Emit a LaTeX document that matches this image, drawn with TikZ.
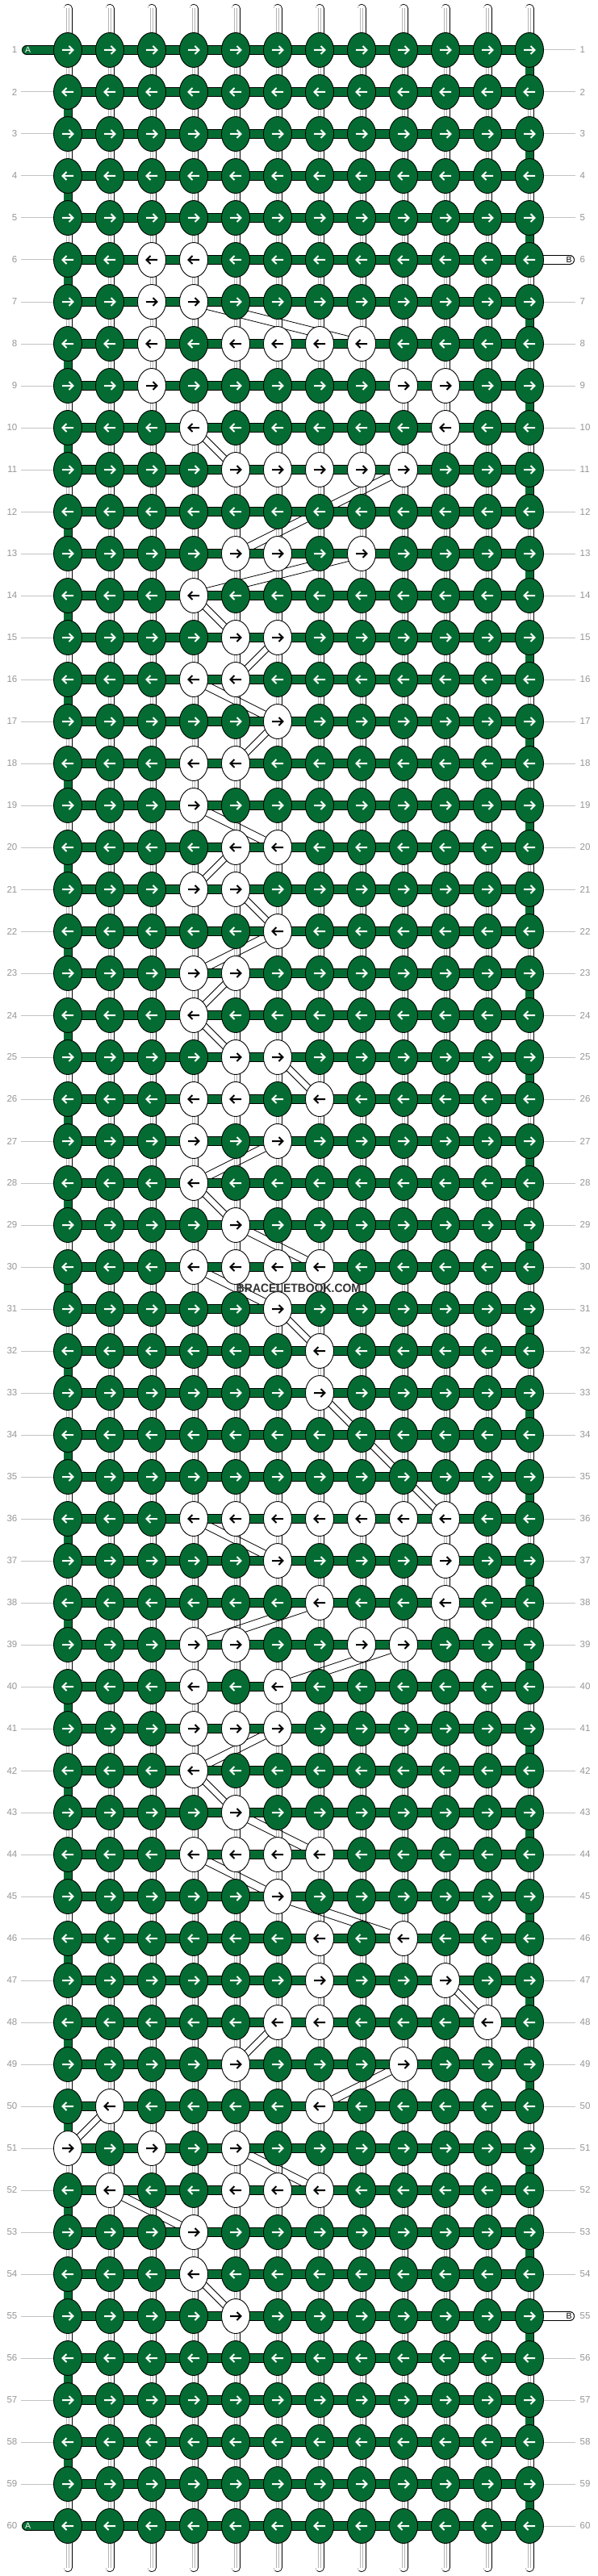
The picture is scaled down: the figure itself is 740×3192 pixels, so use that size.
\documentclass[tikz,border=0pt]{standalone}
\usepackage{fontspec}
\usepackage{graphicx}
\setmainfont{Liberation Sans}
\usetikzlibrary{shapes.geometric}
\definecolor{bbgreen}{RGB}{4,108,50}
\definecolor{numgray}{RGB}{150,150,150}
\definecolor{linegray}{RGB}{195,195,195}
\definecolor{strgray}{RGB}{180,180,180}
\tikzset{
  knotbase/.style={ellipse, draw=black, line width=0.9pt, minimum width=35pt, minimum height=43pt, inner sep=0pt},
  knotg/.style={knotbase, fill=bbgreen},
  knotw/.style={knotbase, fill=white},
  arrowmark/.style={line width=2pt, line cap=butt, line join=miter},
  numlabel/.style={font=\fontsize{11.5}{12}\selectfont, text=numgray, inner sep=0pt},
  guide/.style={linegray, line width=1pt},
  ghost/.style={line width=0.8pt, black},
  tailtext/.style={font=\fontsize{10.5}{11}\selectfont, inner sep=0pt},
}
\newcommand\wstr[3]{%
  \draw[line width=11pt, black, line cap=#3] (#1) -- (#2);
  \draw[line width=9.4pt, white, line cap=#3] (#1) -- (#2);
  \draw[line width=0.8pt, strgray] ([xshift=-1.8pt]#1) -- ([xshift=-1.8pt]#2);
  \draw[line width=0.8pt, strgray] ([xshift=1.8pt]#1) -- ([xshift=1.8pt]#2);}
\newcommand\gstr[2]{%
  \draw[line width=11pt, black] (#1) -- (#2);
  \draw[line width=9.4pt, bbgreen] (#1) -- (#2);}
\newcommand\arrR[2]{\draw[arrowmark,#2] ([xshift=-7pt]#1.center) -- ([xshift=6pt]#1.center) ([shift={(1.5,-5)}]#1.center) -- ([xshift=6.5pt]#1.center) -- ([shift={(1.5,5)}]#1.center);}
\newcommand\arrL[2]{\draw[arrowmark,#2] ([xshift=7pt]#1.center) -- ([xshift=-6pt]#1.center) ([shift={(-1.5,-5)}]#1.center) -- ([xshift=-6.5pt]#1.center) -- ([shift={(-1.5,5)}]#1.center);}
\newcommand\conn[2]{\draw[ghost] ([yshift=5.5pt]p-#1) -- ([yshift=5.5pt]p-#2) ([yshift=-5.5pt]p-#1) -- ([yshift=-5.5pt]p-#2);}
\begin{document}
\begin{tikzpicture}[x=1pt,y=-1pt]
\fill[white] (0,0) rectangle (740,3192);
\useasboundingbox (0,0) rectangle (740,3192);
% white knots
\foreach \rr/\wl in {6/{3,4},7/{3,4},8/{3,5,6,7,8},9/{3,9,10},10/{4,10},11/{5,6,7,8,9},13/{5,6,8},14/4,15/{5,6},16/{4,5},17/6,18/{4,5},19/4,20/{5,6},21/{4,5},22/6,23/{4,5},24/4,25/{5,6},26/{4,5,7},27/{4,6},28/4,29/5,30/{4,5,6,7},31/6,32/7,33/7,36/{4,5,6,7,8,9,10},37/{6,10},38/{7,10},39/{4,5,8,9},40/{4,6},41/{4,5,6},42/4,43/5,44/{4,5,6,7},45/6,46/{7,9},47/{7,10},48/{6,7,11},49/{5,9},50/{2,7},51/{1,3,5},52/{2,5,6,7},53/4,54/4,55/5}{%
  \foreach \cc in \wl {\expandafter\gdef\csname wk-\rr-\cc\endcsname{}}}
% coordinates
\foreach \r in {1,...,60}{
  \pgfmathsetmacro\yy{62+52*(\r-1)}
  \foreach \c in {1,...,12}{\coordinate (p-\r-\c) at ({84+52*(\c-1)},\yy);}
  \coordinate (ll-\r) at (26,\yy);
  \coordinate (rl-\r) at (713,\yy);
  \coordinate (at-\r) at (33,\yy);
  \coordinate (bt-\r) at (706,\yy);
}
\foreach \c in {1,...,12}{
  \coordinate (top-\c) at ({84+52*(\c-1)},10.5);
  \coordinate (bot-\c) at ({84+52*(\c-1)},3181.5);
}
% row numbers
\foreach \r in {1,...,60}{
  \node[numlabel, anchor=east] (ln-\r) at ([xshift=-4.5pt]ll-\r) {\r};
  \node[numlabel, anchor=west] (rn-\r) at ([xshift=5.5pt]rl-\r) {\r};
}
\foreach \r in {2,...,59}{\draw[guide] (ll-\r) -- (p-\r-1);}
\foreach \r in {1,...,5,7,8,...,54,56,57,...,60}{\draw[guide] (p-\r-12) -- (rl-\r);}
% vertical strings
\foreach \c in {1,...,12}{\wstr{top-\c}{p-1-\c}{round}\wstr{p-60-\c}{bot-\c}{round}}
\foreach \r in {1,...,59}{
  \pgfmathtruncatemacro\rn{\r+1}
  \foreach \c in {1,...,12}{
    \def\isg{0}
    \ifnum\c=1 \ifodd\r\else\def\isg{1}\fi\fi
    \ifnum\c=12 \ifodd\r\def\isg{1}\fi\fi
    \ifnum\isg=1 \gstr{p-\r-\c}{p-\rn-\c}\else\wstr{p-\r-\c}{p-\rn-\c}{butt}\fi
  }
}
% ghost strips following the letter path
\foreach \a/\b in {7-4/8-8,10-4/11-5,11-9/13-5,13-8/14-4,14-4/15-5,15-6/16-5,16-4/17-6,17-6/18-5,19-4/20-6,20-5/21-4,21-5/22-6,22-6/23-4,23-5/24-4,24-4/25-5,25-6/26-7,27-6/28-4,28-4/29-5,29-5/30-7,30-4/31-6,31-6/32-7,33-7/36-10,36-4/37-6,38-7/39-4,39-9/40-6,41-6/42-4,42-4/43-5,43-5/44-7,44-4/45-6,45-6/46-9,47-10/48-11,48-6/49-5,49-9/50-7,50-2/51-1,51-5/52-7,52-2/53-4,54-4/55-5}{
  \conn{\a}{\b}}
% horizontal bands
\foreach \r in {1,...,60}{
  \draw[line width=12pt,black] (p-\r-1) -- (p-\r-12);
  \draw[line width=10.4pt,bbgreen] (p-\r-1) -- (p-\r-12);}
\foreach \r in {1,60}{
  \draw[line width=12pt,black,line cap=round] (at-\r) -- (p-\r-1);
  \draw[line width=10.4pt,bbgreen,line cap=round] (at-\r) -- (p-\r-1);
  \node[tailtext, text=white] (atl-\r) at ([xshift=1.7pt]at-\r) {A};}
\foreach \r in {6,55}{
  \draw[line width=12pt,black,line cap=round] (p-\r-12) -- (bt-\r);
  \draw[line width=10.4pt,white,line cap=round] (p-\r-12) -- (bt-\r);
  \node[tailtext, text=black] (btl-\r) at ([xshift=-1pt]bt-\r) {B};}
% knots
\foreach \r in {1,...,60}{
  \foreach \c in {1,...,12}{
    \ifcsname wk-\r-\c\endcsname
      \node[knotw] (k-\r-\c) at (p-\r-\c) {};
      \ifodd\r \arrR{k-\r-\c}{black}\else\arrL{k-\r-\c}{black}\fi
    \else
      \node[knotg] (k-\r-\c) at (p-\r-\c) {};
      \ifodd\r \arrR{k-\r-\c}{white}\else\arrL{k-\r-\c}{white}\fi
    \fi
  }
}
\node[font=\bfseries\fontsize{15}{15}\selectfont, text=black!80, inner sep=0pt] (bbtext) at (370,1596) {\scalebox{0.93}[1]{BRACELETBOOK.COM}};
\end{tikzpicture}
\end{document}
